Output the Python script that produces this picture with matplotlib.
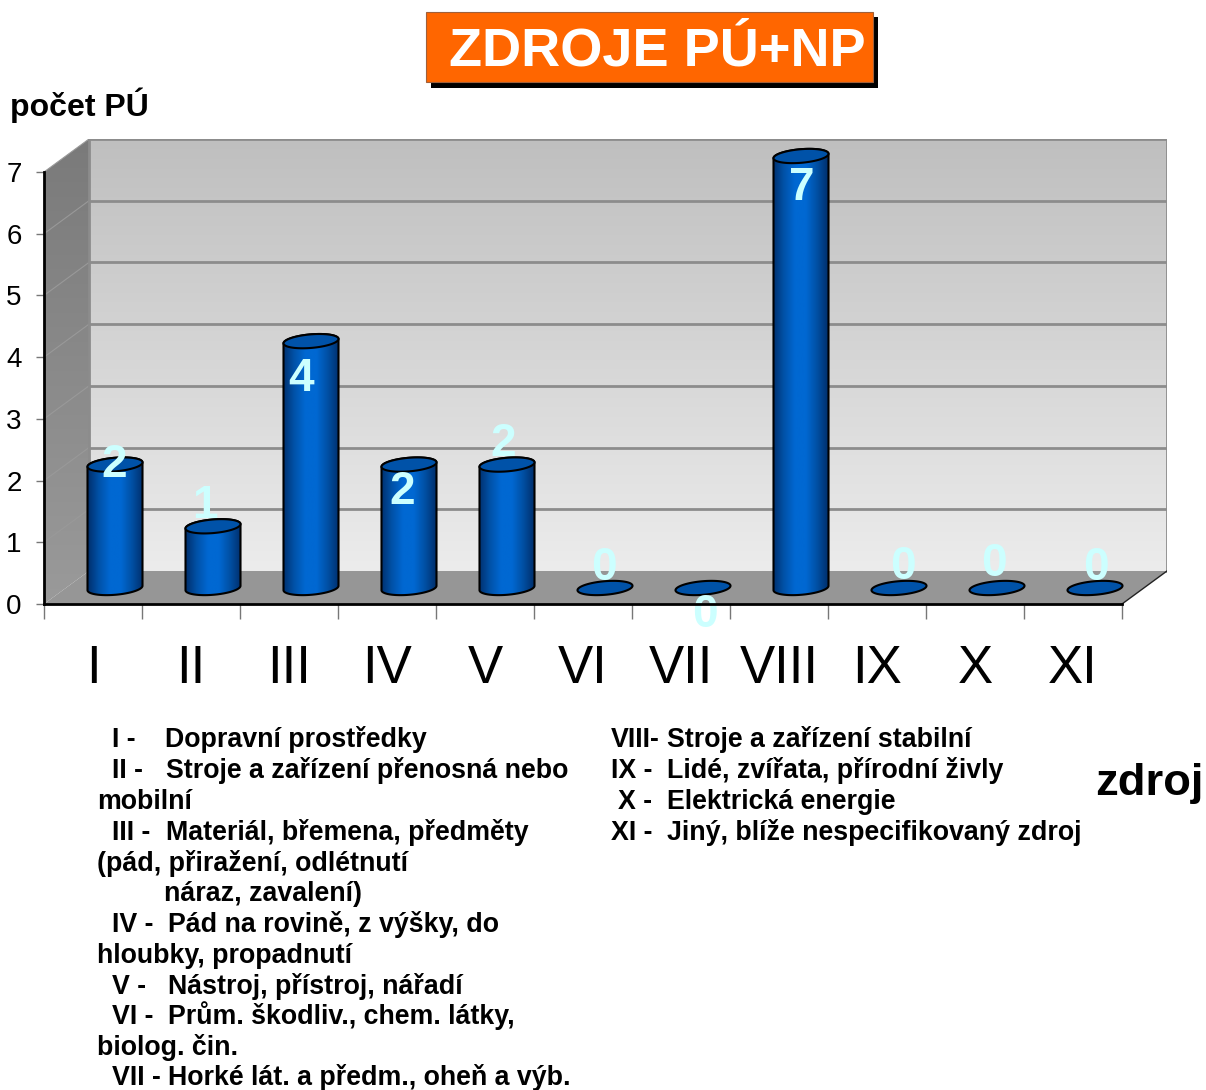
#!/usr/bin/env python3
# -*- coding: utf-8 -*-

import matplotlib
matplotlib.use('Agg')
import matplotlib.pyplot as plt
import numpy as np
from matplotlib.colors import LinearSegmentedColormap
from matplotlib.patches import Polygon, Rectangle

plt.rcParams['font.family'] = ['Liberation Sans', 'DejaVu Sans']

categories = ['I', 'II', 'III', 'IV', 'V', 'VI', 'VII', 'VIII', 'IX', 'X', 'XI']
values = [2, 1, 4, 2, 2, 0, 0, 7, 0, 0, 0]
y_ticks = [0, 1, 2, 3, 4, 5, 6, 7]

legend_left = [
    (738, 112, 'I -'), (738, 165, 'Dopravní prostředky'),
    (769, 112, 'II -'), (769, 166, 'Stroje a zařízení přenosná nebo'),
    (800, 97, 'mobilní'),
    (831, 112, 'III -'), (831, 166, 'Materiál, břemena, předměty'),
    (862, 97, '(pád, přiražení, odlétnutí'),
    (892, 164, 'náraz, zavalení)'),
    (923, 112, 'IV -'), (923, 168, 'Pád na rovině, z výšky, do'),
    (954, 97, 'hloubky, propadnutí'),
    (985, 112, 'V -'), (985, 168, 'Nástroj, přístroj, nářadí'),
    (1015, 112, 'VI -'), (1015, 168, 'Prům. škodliv., chem. látky,'),
    (1046, 97, 'biolog. čin.'),
    (1076, 112, 'VII -'), (1076, 168, 'Horké lát. a předm., oheň a výb.'),
]
legend_right = [
    (738, 611, 'VIII-'), (738, 667, 'Stroje a zařízení stabilní'),
    (769, 611, 'IX -'), (769, 667, 'Lidé, zvířata, přírodní živly'),
    (800, 618, 'X -'), (800, 667, 'Elektrická energie'),
    (831, 611, 'XI -'), (831, 667, 'Jiný, blíže nespecifikovaný zdroj'),
]

# label shift from the top of each cylinder, in pixels
label_shift = [(-1, 0), (-8, 20), (-10, -38), (-7, -27), (-4, 21), (-1, 20),
               (2, -27), (1, -32), (4, 21), (-3, 24), (1, 20)]

W, H = 1206, 1090
x_px = 98.0   # one category
y_px = 61.7   # one unit
depth_x = 45 / x_px
depth_y = 33 / y_px
bar_x = 22 / x_px
bar_y = 16 / y_px
rx = 27.5 / x_px
ry = 6.8 / y_px
tilt = (2.2 / y_px) / rx

fig = plt.figure(figsize=(W / 100, H / 100), dpi=100)

# page axes in pixels, for title and texts
page = fig.add_axes([0, 0, 1, 1])
page.set_xlim(0, W)
page.set_ylim(H, 0)
page.axis('off')

page.add_patch(Rectangle((431, 17), 447, 71, color='black', lw=0))
page.add_patch(Rectangle((426, 12), 447, 70, facecolor='#ff6600', edgecolor='#a0603a', lw=0.8))
page.text(657, 51, 'ZDROJE PÚ+NP', color='white', fontsize=39, fontweight='bold',
          ha='center', va='center')
page.text(10, 105, 'počet PÚ', fontsize=23, fontweight='bold', va='center')
page.text(1095, 784, 'zdroj', fontsize=32.7, fontweight='bold', va='center')

for y, x, s in legend_left + legend_right:
    page.text(x, y + 9, s, fontsize=19.3, fontweight='bold', va='baseline')

# chart axes, the origin sits on the front corner of the 3D box
n = len(categories)
ax = fig.add_axes([44 / W, 1 - 604 / H, (n * x_px + 45) / W, 465 / H])
ax.patch.set_visible(False)
xmax = n + depth_x
ymax = y_ticks[-1] + depth_y

wall_cmap = LinearSegmentedColormap.from_list('wall', ['#bfbfbf', '#ececec'])
side_cmap = LinearSegmentedColormap.from_list('side', ['#7a7a7a', '#9a9a9a'])
bar_cmap = LinearSegmentedColormap.from_list(
    'bar', ['#00306e', '#0052a8', '#0068d2', '#0068d2', '#0050a4', '#00306e'])
grad_v = np.linspace(0, 1, 256).reshape(-1, 1)
grad_h = np.linspace(0, 1, 256).reshape(1, -1)

ax.imshow(grad_v, cmap=wall_cmap, extent=[depth_x, xmax, depth_y, ymax], aspect='auto', zorder=1)

side = Polygon([(0, 0), (depth_x, depth_y), (depth_x, ymax), (0, y_ticks[-1])],
               facecolor='none', edgecolor='none')
ax.add_patch(side)
side_img = ax.imshow(grad_v, cmap=side_cmap, extent=[0, depth_x, 0, ymax], aspect='auto', zorder=1)
side_img.set_clip_path(side)

ax.add_patch(Polygon([(0, 0), (depth_x, depth_y), (xmax, depth_y), (n, 0)],
                     facecolor='#969696', edgecolor='none', zorder=2))
ax.plot([n, xmax], [0, depth_y], color='#222222', lw=1, zorder=3)

# grid lines and wall borders
for v in y_ticks[1:]:
    ax.plot([depth_x, xmax], [v + depth_y, v + depth_y], color='#8c8c8c', lw=2, zorder=2,
            solid_capstyle='butt')
    ax.plot([0, depth_x], [v, v + depth_y], color='#999999', lw=0.8, zorder=2)
ax.plot([depth_x, depth_x], [depth_y, ymax], color='#8c8c8c', lw=2, zorder=2)
ax.plot([xmax, xmax], [depth_y, ymax], color='#8c8c8c', lw=2, zorder=2)

t = np.linspace(0, 2 * np.pi, 121)
lower = np.linspace(np.pi, 2 * np.pi, 61)
upper = np.linspace(0, np.pi, 61)


def ellipse(cx, cy, angle):
    return cx + rx * np.cos(angle), cy + ry * np.sin(angle) + tilt * rx * np.cos(angle)


for i, v in enumerate(values):
    cx = i + 0.5 + bar_x
    top = v + bar_y
    if v > 0:
        bx, by = ellipse(cx, bar_y, lower)
        tx, ty = ellipse(cx, top, upper)
        body = Polygon(np.column_stack([np.r_[bx, tx], np.r_[by, ty]]), facecolor='none',
                       edgecolor='black', lw=1.5, zorder=5)
        ax.add_patch(body)
        img = ax.imshow(grad_h, cmap=bar_cmap, extent=[cx - rx, cx + rx, bar_y - 1, top + 1],
                        aspect='auto', zorder=4)
        img.set_clip_path(body)
    ex, ey = ellipse(cx, top, t)
    ax.add_patch(Polygon(np.column_stack([ex, ey]), facecolor='#0052a8', edgecolor='black',
                         lw=1.5, zorder=6))
    dx, dy = label_shift[i]
    ax.annotate(str(v), (cx, top), xytext=(dx * 0.72, dy * 0.72), textcoords='offset points',
                color='#ccffff', fontsize=33, fontweight='bold', ha='center', va='center',
                zorder=7, annotation_clip=False)

ax.set_xlim(0, xmax)
ax.set_ylim(0, ymax)

ax.set_xticks(np.arange(n + 1))
ax.set_xticks(np.arange(n) + 0.5, minor=True)
ax.set_xticklabels([])
ax.set_xticklabels(categories, minor=True, fontsize=38)
ax.tick_params(axis='x', which='major', length=11, width=1, color='#777777')
ax.tick_params(axis='x', which='minor', length=0, pad=28.5)
ax.set_yticks(y_ticks)
ax.set_yticklabels([str(v) for v in y_ticks], fontsize=20)
ax.tick_params(axis='y', length=6, width=1, color='#777777', pad=10)

for name in ['top', 'right']:
    ax.spines[name].set_visible(False)
ax.spines['left'].set_bounds(0, y_ticks[-1])
ax.spines['bottom'].set_bounds(0, n)
ax.spines['left'].set_linewidth(2)
ax.spines['bottom'].set_linewidth(2)
ax.spines['left'].set_zorder(8)
ax.spines['bottom'].set_zorder(8)

fig.savefig('out.png', dpi=100)
